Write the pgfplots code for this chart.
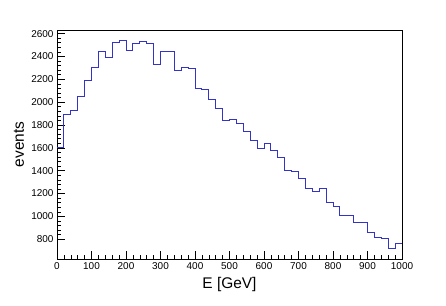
\documentclass[border=0pt]{standalone}
\usepackage{pgfplots}
\pgfplotsset{compat=1.18}
\usepackage{fontspec}
\setmainfont{Liberation Sans}
\definecolor{histblue}{rgb}{0.2,0.2,0.78}
\begin{document}
\begin{tikzpicture}
\useasboundingbox (0,0) rectangle (446bp,306bp);
\begin{axis}[
  at={(57bp,47bp)}, anchor=south west,
  scale only axis, width=345bp, height=229bp,
  xmin=0, xmax=1000, ymin=627, ymax=2632,
  xtick={0,100,...,1000}, ytick={800,1000,...,2600},
  minor tick num=4,
  tick pos=left, tick align=inside,
  major tick length=8bp, minor tick length=4bp,
  every tick/.style={black, line width=0.6bp},
  axis line style={black, line width=0.8bp},
  /pgf/number format/assume math mode=true,
  /pgf/number format/1000 sep={},
  ticklabel style={font=\fontsize{10}{12}\selectfont},
  xlabel={E [GeV]}, ylabel={events},
  xlabel style={at={(axis description cs:0.5,-0.111)}, anchor=center, font=\fontsize{15.5}{18}\selectfont},
  ylabel style={at={(axis description cs:-0.110,0.5)}, anchor=center, rotate=0, font=\fontsize{15.5}{18}\selectfont},
]
\addplot[const plot, histblue, line width=0.9bp] coordinates {
(0,1604) (20,1892) (40,1930) (60,2052) (80,2189) (100,2306) (120,2440) (140,2396) (160,2527) (180,2541)
(200,2454) (220,2513) (240,2536) (260,2515) (280,2332) (300,2443) (320,2443) (340,2280) (360,2303) (380,2297)
(400,2117) (420,2115) (440,2023) (460,1945) (480,1842) (500,1846) (520,1812) (540,1746) (560,1666) (580,1594)
(600,1639) (620,1576) (640,1513) (660,1405) (680,1397) (700,1333) (720,1243) (740,1219) (760,1248) (780,1126)
(800,1091) (820,1006) (840,1008) (860,943) (880,947) (900,858) (920,817) (940,811) (960,720) (980,759)
(1000,759)
};
\end{axis}
\end{tikzpicture}
\end{document}
